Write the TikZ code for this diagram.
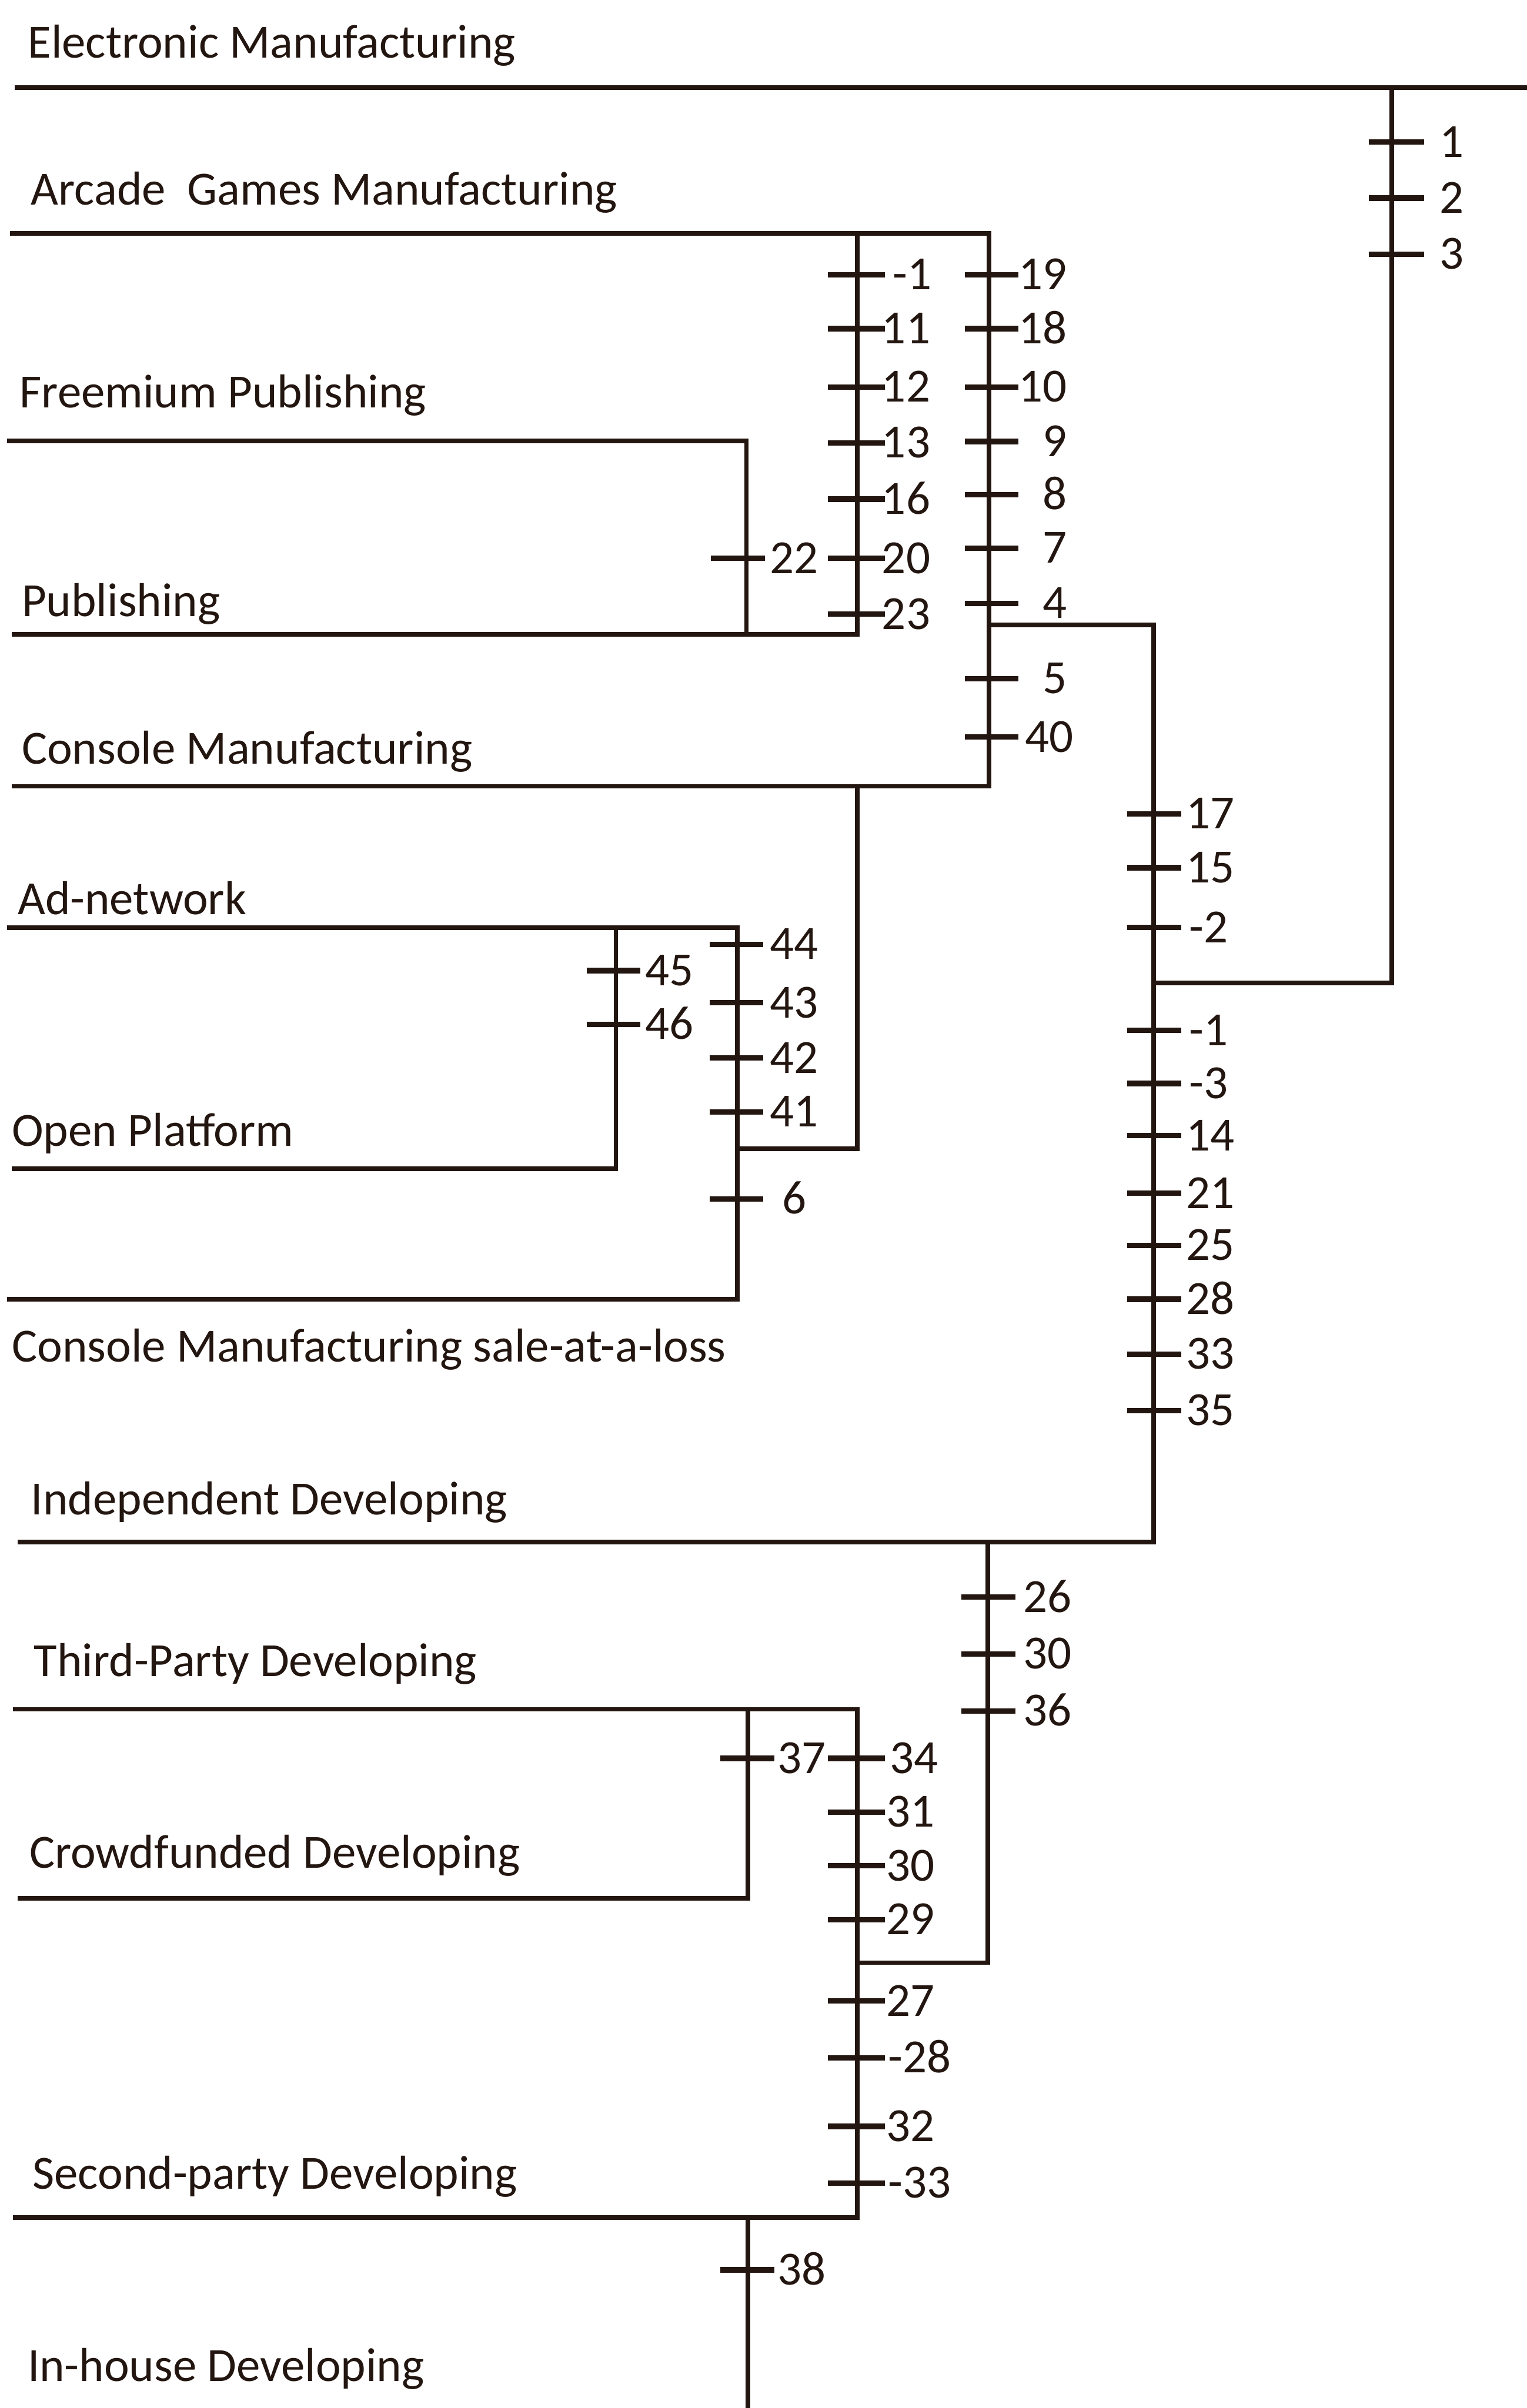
\documentclass[tikz,border=0pt]{standalone}
\usepackage{fontspec}
\setmainfont{Carlito}
\definecolor{ink}{RGB}{35,22,16}
\tikzset{
  branch/.style={draw=ink,line width=3pt,line join=miter,line cap=rect},
  tickln/.style={draw=ink,line width=3.5pt},
  taxon/.style={anchor=mid west,inner sep=0pt,text=ink,font=\fontsize{31}{36}\selectfont},
  num/.style={anchor=mid west,inner sep=0pt,text=ink,font=\fontsize{31}{36}\selectfont},
  numr/.style={anchor=mid east,inner sep=0pt,text=ink,font=\fontsize{31}{36}\selectfont},
}
% tick: x1, x2, y, label-x, label, style
\newcommand\tkm[6]{%
  \draw[tickln] (#1,#3) -- (#2,#3);
  \node[#6] at (#4,#3+7.3) {#5};}
\begin{document}
\begin{tikzpicture}[x=1pt,y=-1pt]
\useasboundingbox (0,0) rectangle (994,1568);
% ---- taxon labels ----
\node[taxon] (tEM)  at (18,35.5)  {Electronic Manufacturing};
\node[taxon] (tAG)  at (20,131) {Arcade\ \ Games Manufacturing};
\node[taxon] (tFP)  at (12.7,263) {Freemium Publishing};
\node[taxon] (tPU)  at (14,399) {Publishing};
\node[taxon] (tCM)  at (14,495) {Console Manufacturing};
\node[taxon] (tAN)  at (11.4,593) {Ad-network};
\node[taxon] (tOP)  at (7.6,744) {Open Platform};
\node[taxon] (tSL)  at (7.6,884.5) {Console Manufacturing sale-at-a-loss};
\node[taxon] (tID)  at (20,984) {Independent Developing};
\node[taxon] (tTP)  at (22,1089) {Third-Party Developing};
\node[taxon] (tCD)  at (19,1214) {Crowdfunded Developing};
\node[taxon] (tSP)  at (21,1423) {Second-party Developing};
\node[taxon] (tIH)  at (17.8,1548) {In-house Developing};
% ---- junction coordinates ----
\coordinate (emL) at (11,57);   \coordinate (emR) at (994,57);
\coordinate (rootT) at (906,57); \coordinate (rootB) at (906,640);
\coordinate (agL) at (8,152);   \coordinate (agR) at (644,152);
\coordinate (bT) at (558,152);  \coordinate (bB) at (558,413);
\coordinate (cB) at (644,512);
\coordinate (fpL) at (6,287);   \coordinate (fpR) at (486,287); \coordinate (fpB) at (486,413);
\coordinate (puL) at (9,413);
\coordinate (brC) at (644,407); \coordinate (brCR) at (751,407); \coordinate (dB) at (751,1004);
\coordinate (dJ) at (751,640);
\coordinate (cmL) at (9,512);   \coordinate (cmJ) at (558,512); \coordinate (cmB) at (558,748);
\coordinate (anL) at (6,604);   \coordinate (anR) at (480,604);
\coordinate (eT) at (401,604);  \coordinate (eB) at (401,761);
\coordinate (fB) at (480,846);  \coordinate (fJ) at (480,748);
\coordinate (opL) at (9,761);
\coordinate (slL) at (6,846);
\coordinate (idL) at (13,1004); \coordinate (gT) at (643,1004); \coordinate (gB) at (643,1278);
\coordinate (tpL) at (10,1113); \coordinate (tpR) at (558,1113);
\coordinate (hT) at (487,1113); \coordinate (hB) at (487,1236);
\coordinate (iB) at (558,1444); \coordinate (iJ) at (558,1278);
\coordinate (cdL) at (13,1236);
\coordinate (spL) at (10,1444);
\coordinate (jT) at (487,1444); \coordinate (jB) at (487,1568);
% ---- branches ----
\draw[branch] (emL) -- (emR);
\draw[branch] (rootT) -- (rootB) -- (dJ);
\draw[branch] (agL) -- (agR) -- (cB) -- (cmL);
\draw[branch] (bT) -- (bB) -- (puL);
\draw[branch] (fpL) -- (fpR) -- (fpB);
\draw[branch] (brC) -- (brCR) -- (dB) -- (idL);
\draw[branch] (cmJ) -- (cmB) -- (fJ);
\draw[branch] (anL) -- (anR) -- (fB) -- (slL);
\draw[branch] (eT) -- (eB) -- (opL);
\draw[branch] (gT) -- (gB) -- (iJ);
\draw[branch] (tpL) -- (tpR) -- (iB) -- (spL);
\draw[branch] (hT) -- (hB) -- (cdL);
\draw[branch,line cap=butt] (jT) -- (jB);
% ---- character ticks ----
% column A (x=906)
\tkm{891}{927}{92.6}{937}{1}{num}
\tkm{891}{927}{129}{937}{2}{num}
\tkm{891}{927}{165.6}{937}{3}{num}
% column B (x=558)
\tkm{539}{576}{179}{581}{-1}{num}
\tkm{539}{576}{214}{574}{11}{num}
\tkm{539}{576}{252}{574}{12}{num}
\tkm{539}{576}{288.5}{574}{13}{num}
\tkm{539}{576}{325}{574}{16}{num}
\tkm{539}{576}{363.6}{574}{20}{num}
\tkm{539}{576}{400}{574}{23}{num}
% 22 on x=486
\tkm{463}{498}{363.6}{501}{22}{num}
% column C (x=644)
\tkm{628}{663}{179}{695}{19}{numr}
\tkm{628}{663}{214}{695}{18}{numr}
\tkm{628}{663}{252}{695}{10}{numr}
\tkm{628}{663}{287.5}{695}{9}{numr}
\tkm{628}{663}{322}{695}{8}{numr}
\tkm{628}{663}{357}{695}{7}{numr}
\tkm{628}{663}{393}{695}{4}{numr}
\tkm{628}{663}{442}{695}{5}{numr}
\tkm{628}{663}{480}{699}{40}{numr}
% column x=401
\tkm{382}{417}{632}{420}{45}{num}
\tkm{382}{417}{667}{420}{46}{num}
% column x=480
\tkm{462}{497}{615}{501}{44}{num}
\tkm{462}{497}{653}{501}{43}{num}
\tkm{462}{497}{689}{501}{42}{num}
\tkm{462}{497}{724}{501}{41}{num}
\tkm{462}{497}{780.6}{509}{6}{num}
% column D (x=751)
\tkm{734}{769}{530}{772}{17}{num}
\tkm{734}{769}{565}{772}{15}{num}
\tkm{734}{769}{604}{774}{-2}{num}
\tkm{734}{769}{671}{774}{-1}{num}
\tkm{734}{769}{705.5}{774}{-3}{num}
\tkm{734}{769}{739.5}{772}{14}{num}
\tkm{734}{769}{777}{772}{21}{num}
\tkm{734}{769}{811}{772}{25}{num}
\tkm{734}{769}{846}{772}{28}{num}
\tkm{734}{769}{881.7}{772}{33}{num}
\tkm{734}{769}{918.6}{772}{35}{num}
% column G (x=643)
\tkm{626}{661}{1040}{666}{26}{num}
\tkm{626}{661}{1077}{666}{30}{num}
\tkm{626}{661}{1114}{666}{36}{num}
% 37 on x=487
\tkm{469}{504}{1145}{506}{37}{num}
% column I (x=558)
\tkm{539}{576}{1145}{579}{34}{num}
\tkm{539}{576}{1180}{577}{31}{num}
\tkm{539}{576}{1215}{577}{30}{num}
\tkm{539}{576}{1250}{577}{29}{num}
\tkm{539}{576}{1303}{577}{27}{num}
\tkm{539}{576}{1340}{578}{-28}{num}
\tkm{539}{576}{1384.6}{577}{32}{num}
\tkm{539}{576}{1421.6}{578}{-33}{num}
% 38 on x=487
\tkm{469}{504}{1478}{506}{38}{num}
\end{tikzpicture}
\end{document}
